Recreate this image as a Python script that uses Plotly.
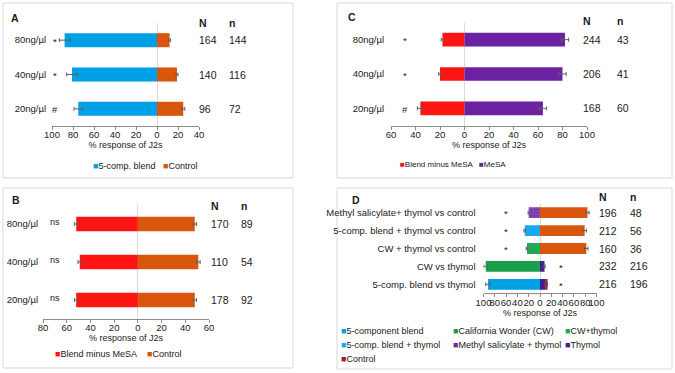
import plotly.graph_objects as go

# ---------------- data ----------------
conc_labels = ["80ng/µl", "40ng/µl", "20ng/µl"]

# Panel A
a_blend = [88, 81, 75]
a_blend_err = [5, 5, 4]
a_control = [12, 19, 25]
a_control_err = [1, 1, 1.5]
a_N = [164, 140, 96]
a_n = [144, 116, 72]
a_sig = ["*", "*", "#"]
a_ticks = [-100, -80, -60, -40, -20, 0, 20, 40]

# Panel B
b_minus = [52, 49, 52]
b_minus_err = [1.5, 1.5, 1.5]
b_control = [48, 51, 48]
b_control_err = [1.5, 1.5, 1.5]
b_N = [170, 110, 178]
b_n = [89, 54, 92]
b_sig = ["ns", "ns", "ns"]
b_ticks = [-80, -60, -40, -20, 0, 20, 40, 60]

# Panel C
c_minus = [18, 20, 36]
c_minus_err = [1, 1, 2.5]
c_mesa = [82, 80, 64]
c_mesa_err = [3, 3, 3]
c_N = [244, 206, 168]
c_n = [43, 41, 60]
c_sig = ["*", "*", "#"]
c_ticks = [-60, -40, -20, 0, 20, 40, 60, 80, 100]

# Panel D
d_cats = ["Methyl salicylate+ thymol vs control",
          "5-comp. blend + thymol vs control",
          "CW + thymol vs control",
          "CW vs thymol",
          "5-comp. blend vs thymol"]
d_blend = [None, None, None, None, 92]
d_blend_err = [0, 0, 0, 0, 4]
d_cw = [None, None, None, 96, None]
d_cw_err = [0, 0, 0, 3.5, 0]
d_cw_thymol = [None, None, 23, None, None]
d_cw_thymol_err = [0, 0, 1.5, 0, 0]
d_blend_thymol = [None, 27, None, None, None]
d_blend_thymol_err = [0, 1.5, 0, 0, 0]
d_mesa_thymol = [20, None, None, None, None]
d_mesa_thymol_err = [1, 0, 0, 0, 0]
d_thymol = [None, None, None, 8, 10]
d_thymol_err = [0, 0, 0, 1, 1]
d_control_bars = [84, 79, 82, None, None]
d_control_bars_err = [3, 3, 3, 0, 0]
d_control = [None, None, None, None, 3]
d_N = [196, 212, 160, 232, 216]
d_n = [48, 56, 36, 216, 196]
d_sig = ["*", "*", "*", "*", "*"]
d_ticks = [-100, -80, -60, -40, -20, 0, 20, 40, 60, 80, 100]

# ---------------- style ----------------
W, H = 675, 373
FONT = "Arial, Liberation Sans, sans-serif"
TXT = "#1a1a1a"
AX_COL = "#8c8c8c"
ERR_COL = "#606060"
BLUE = "#00a0e6"
BLUE2 = "#1aa8ee"
ORANGE = "#d9560c"
RED = "#ff1414"
PURPLE = "#6a22a2"
MESA_TH = "#7030a0"
THYMOL = "#43208e"
GREEN = "#1a9e4c"
GREEN2 = "#22a857"
MAROON = "#9a1f2c"


def px(x):
    return x / W


def py(y):
    return 1 - y / H


fig = go.Figure()


def add_bar(name, vals, errs, color, xa, ya, cats, sign, width, pattern=None):
    xs = [None if v is None else sign * v for v in vals]
    marker = dict(color=color, line=dict(width=0))
    if pattern:
        marker["pattern"] = pattern
    fig.add_trace(go.Bar(
        y=cats, x=xs, orientation="h", name=name, marker=marker, width=width,
        error_x=dict(type="data", array=errs, color=ERR_COL, thickness=1, width=2),
        xaxis=xa, yaxis=ya, showlegend=False))


# A
add_bar("5-comp. blend", a_blend, a_blend_err, BLUE, "x", "y", conc_labels, -1, 0.41)
add_bar("Control", a_control, a_control_err, ORANGE, "x", "y", conc_labels, 1, 0.41)
# B
add_bar("Blend minus MeSA", b_minus, b_minus_err, RED, "x2", "y2", conc_labels, -1, 0.38)
add_bar("Control", b_control, b_control_err, ORANGE, "x2", "y2", conc_labels, 1, 0.38)
# C
add_bar("Blend minus MeSA", c_minus, c_minus_err, RED, "x3", "y3", conc_labels, -1, 0.40)
add_bar("MeSA", c_mesa, c_mesa_err, PURPLE, "x3", "y3", conc_labels, 1, 0.40)
# D
DW = 0.6
add_bar("5-component blend", d_blend, d_blend_err, BLUE, "x4", "y4", d_cats, -1, DW)
add_bar("California Wonder (CW)", d_cw, d_cw_err, GREEN, "x4", "y4", d_cats, -1, DW)
add_bar("CW+thymol", d_cw_thymol, d_cw_thymol_err, GREEN2, "x4", "y4", d_cats, -1, DW)
add_bar("5-comp. blend + thymol", d_blend_thymol, d_blend_thymol_err, BLUE2, "x4", "y4", d_cats, -1, DW)
add_bar("Methyl salicylate + thymol", d_mesa_thymol, d_mesa_thymol_err, MESA_TH, "x4", "y4", d_cats, -1, DW,
        pattern=dict(shape=".", fgcolor="#9b6cc6", bgcolor=MESA_TH, size=3, solidity=0.3))
add_bar("Thymol", d_thymol, d_thymol_err, THYMOL, "x4", "y4", d_cats, 1, DW)
add_bar("Control", d_control_bars, d_control_bars_err, ORANGE, "x4", "y4", d_cats, 1, DW)
add_bar("Control", d_control, [0] * 5, MAROON, "x4", "y4", d_cats, 1, DW)


def xaxis_cfg(x0, x1, ticks, anchor):
    return dict(domain=[px(x0), px(x1)], range=[ticks[0], ticks[-1]], anchor=anchor,
                tickmode="array", tickvals=ticks, ticktext=[str(abs(t)) for t in ticks],
                tickangle=0, showline=True, linecolor=AX_COL, linewidth=1,
                ticks="outside", ticklen=3, tickcolor=AX_COL, showgrid=False,
                zeroline=True, zerolinecolor="#d9d9d9", zerolinewidth=1,
                tickfont=dict(size=9.5, color=TXT, family=FONT), ticklabelstandoff=-3,
                title=dict(text="% response of J2s", font=dict(size=9, color=TXT, family=FONT), standoff=1),
                fixedrange=True)


def yaxis_cfg(y_top, y_bot, cats, anchor, standoff):
    return dict(domain=[py(y_bot), py(y_top)], anchor=anchor, type="category",
                categoryorder="array", categoryarray=cats, autorange="reversed",
                showline=False, showgrid=False, zeroline=False, ticks="",
                tickfont=dict(size=9.5, color=TXT, family=FONT), ticklabelstandoff=standoff,
                fixedrange=True)


fig.update_layout(
    xaxis=xaxis_cfg(52, 199, a_ticks, "y"),
    yaxis=yaxis_cfg(23, 126, conc_labels, "x", 5),
    xaxis2=xaxis_cfg(43, 209, b_ticks, "y2"),
    yaxis2=yaxis_cfg(205, 319, conc_labels, "x2", 4),
    xaxis3=xaxis_cfg(391, 587, c_ticks, "y3"),
    yaxis3=yaxis_cfg(22.5, 125.5, conc_labels, "x3", 6),
    xaxis4=xaxis_cfg(483.5, 596.5, d_ticks, "y4"),
    yaxis4=yaxis_cfg(203.7, 293.3, d_cats, "x4", 7),
)

ann = []


def text(x, y, t, size=9, bold=False, xanchor="left", yref="paper", xref="paper", yshift=0):
    ann.append(dict(x=x, y=y, xref=xref, yref=yref, text=(f"<b>{t}</b>" if bold else t),
                    showarrow=False, xanchor=xanchor, yanchor="middle", yshift=yshift,
                    font=dict(size=size, color=TXT, family=FONT)))


# panel letters
text(px(9), py(18), "A", 10.5, True)
text(px(10), py(200), "B", 10.5, True)
text(px(346), py(17), "C", 10.5, True)
text(px(350), py(200), "D", 10.5, True)


def counts(Ns, ns, cats, yref, xN, xn, yhead):
    text(px(xN), py(yhead), "N", 10.5, True)
    text(px(xn), py(yhead), "n", 10.5, True)
    for c, N, n in zip(cats, Ns, ns):
        text(px(xN), c, str(N), 10.5, yref=yref)
        text(px(xn), c, str(n), 10.5, yref=yref)


counts(a_N, a_n, conc_labels, "y", 197, 227, 23)
counts(b_N, b_n, conc_labels, "y2", 209, 239, 206)
counts(c_N, c_n, conc_labels, "y3", 581, 615, 21)
counts(d_N, d_n, d_cats, "y4", 597, 628, 197)

for c, s in zip(conc_labels, a_sig):
    text(px(55), c, s, 9.5, xanchor="center", yref="y", yshift=-1)
for c, s in zip(conc_labels, b_sig):
    text(px(55), c, s, 9, xanchor="center", yref="y2", yshift=2)
for c, s in zip(conc_labels, c_sig):
    text(px(405), c, s, 9.5, xanchor="center", yref="y3", yshift=-1)
for c, s in zip(d_cats, d_sig):
    sx = -61 if c.endswith("control") else 38
    text(sx, c, s, 9.5, xanchor="center", yref="y4", xref="x4", yshift=-1)


def legend_item(x, y, name, color, size=9):
    ann.append(dict(x=px(x), y=py(y), xref="paper", yref="paper", showarrow=False,
                    xanchor="left", yanchor="middle",
                    text=f'<span style="color:{color}">■</span>{name}',
                    font=dict(size=size, color=TXT, family=FONT)))


legend_item(91, 166, "5-comp. blend", BLUE)
legend_item(161, 166, "Control", ORANGE)
legend_item(53, 354, "Blend minus MeSA", RED)
legend_item(145, 354, "Control", ORANGE)
legend_item(398, 164, "Blend minus MeSA", RED, 8)
legend_item(477, 164, "MeSA", PURPLE, 8)

d_legend = [("5-component blend", BLUE), ("California Wonder (CW)", GREEN), ("CW+thymol", GREEN2),
            ("5-comp. blend + thymol", BLUE2), ("Methyl salicylate + thymol", MESA_TH), ("Thymol", THYMOL),
            ("Control", MAROON)]
col_x = [339, 451, 563]
row_y = [331, 345, 359]
for i, (nm, col) in enumerate(d_legend):
    legend_item(col_x[i % 3], row_y[i // 3], nm, col)

shapes = []
for (x0, y0, x1, y1) in [(3, 3, 293, 178), (3, 188, 293, 368), (337, 3, 672, 178), (337, 188, 672, 369)]:
    shapes.append(dict(type="rect", xref="paper", yref="paper", x0=px(x0), x1=px(x1), y0=py(y0), y1=py(y1),
                       line=dict(color="#d9d9d9", width=1), fillcolor="rgba(0,0,0,0)", layer="below"))

fig.update_layout(
    width=W, height=H, margin=dict(l=0, r=0, t=0, b=0), barmode="relative",
    template="none", showlegend=False, font=dict(family=FONT, color=TXT),
    paper_bgcolor="white", plot_bgcolor="rgba(0,0,0,0)",
    annotations=ann, shapes=shapes,
)

fig.write_html("out.html", config={"displayModeBar": False},
               post_script="document.body.style.margin='0';document.body.style.padding='0';")
